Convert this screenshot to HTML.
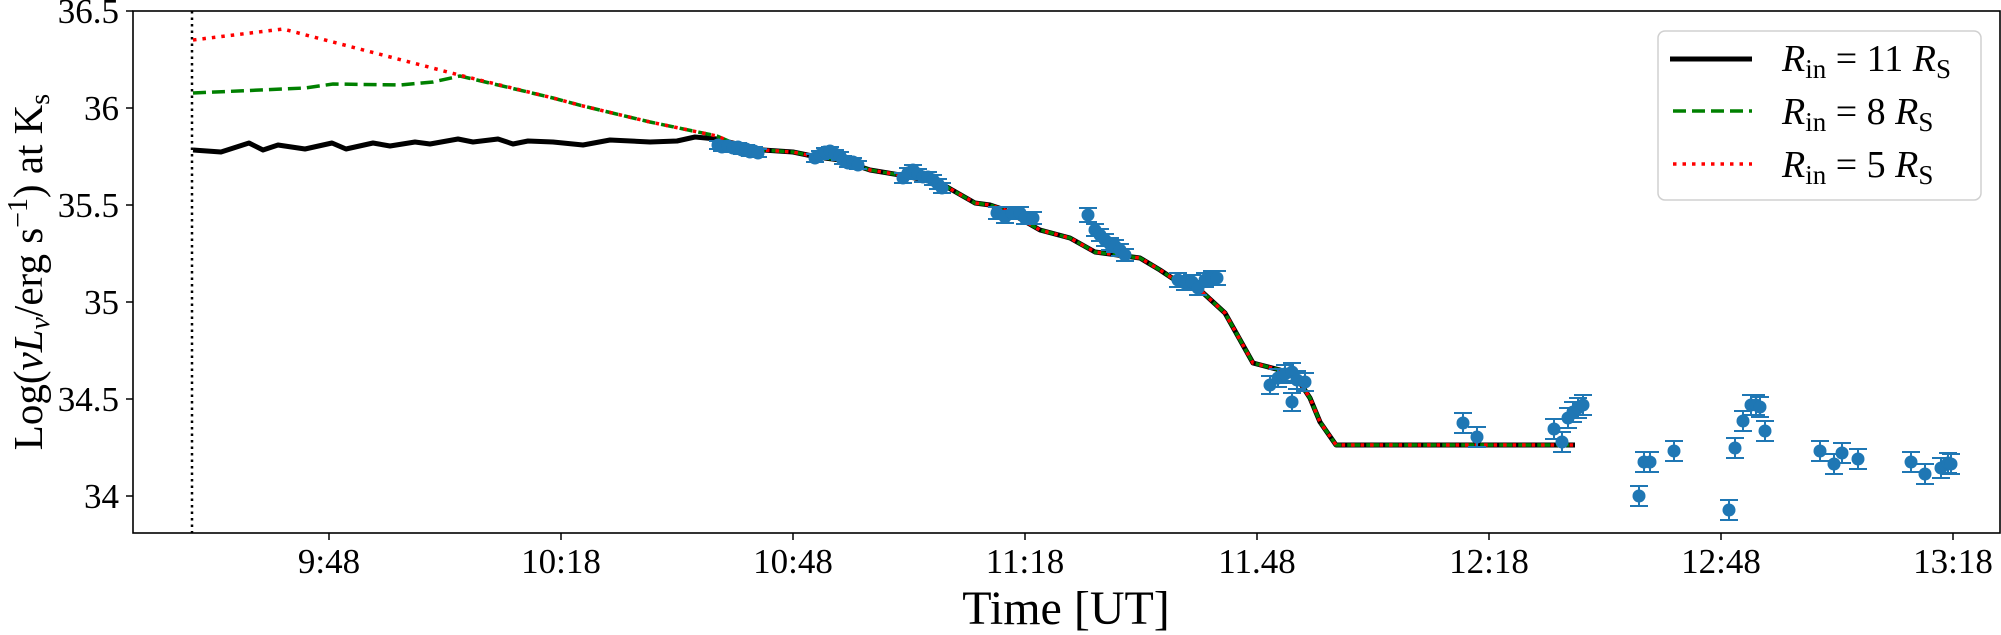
<!DOCTYPE html>
<html><head><meta charset="utf-8"><style>
html,body{margin:0;padding:0;background:#fff;}
svg{display:block;}
text{font-family:"Liberation Serif","DejaVu Serif",serif;fill:#000;}
</style></head><body>
<svg width="2001" height="635" viewBox="0 0 2001 635" xmlns="http://www.w3.org/2000/svg">
<rect width="2001" height="635" fill="#fff"/>
<line x1="192" y1="11" x2="192" y2="533" stroke="#000" stroke-width="2.5" stroke-dasharray="2.5,4"/>
<polyline fill="none" stroke="#000" stroke-width="5" stroke-linejoin="round" points="193,150 221,152 249,143 263,150 278,145 305,149 332,143 346,149 373,143 390,146 415,142 430,144 458,139 473,142 498,139 513,144 528,141 553,142 583,145 610,140 650,142 677,141 695,137 717,139 733,143 763,150 793,152 817,157 840,160 870,170 900,175 940,183 975,203 990,205 1005,210 1040,230 1070,238 1095,252 1140,258 1160,270 1175,280 1200,290 1225,313 1253,363 1280,370 1297,378 1310,398 1320,422 1336,445 1575,445"/>
<polyline fill="none" stroke="#008000" stroke-width="3.5" stroke-dasharray="13,6" points="193,93 283,89 305,88 333,84 400,85 433,82 460,76 553,98 583,106 650,122 717,136 733,143 763,150 793,152 817,157 840,160 870,170 900,175 940,183 975,203 990,205 1005,210 1040,230 1070,238 1095,252 1140,258 1160,270 1175,280 1200,290 1225,313 1253,363 1280,370 1297,378 1310,398 1320,422 1336,445 1575,445"/>
<polyline fill="none" stroke="#ff0000" stroke-width="3.5" stroke-dasharray="3.5,6" points="193,40 283,29 463,76 553,98 583,106 650,122 717,136 733,143 763,150 793,152 817,157 840,160 870,170 900,175 940,183 975,203 990,205 1005,210 1040,230 1070,238 1095,252 1140,258 1160,270 1175,280 1200,290 1225,313 1253,363 1280,370 1297,378 1310,398 1320,422 1336,445 1575,445"/>
<g id="data" fill="#1f77b4" stroke="#1f77b4" stroke-width="2"></g>
<rect x="133" y="11" width="1867" height="522" fill="none" stroke="#000" stroke-width="1.6"/>
<g stroke="#000" stroke-width="1.5">
<line x1="126" y1="11" x2="133" y2="11"/><line x1="126" y1="108" x2="133" y2="108"/><line x1="126" y1="205" x2="133" y2="205"/><line x1="126" y1="302" x2="133" y2="302"/><line x1="126" y1="399" x2="133" y2="399"/><line x1="126" y1="496" x2="133" y2="496"/>
<line x1="329" y1="533" x2="329" y2="540"/><line x1="561" y1="533" x2="561" y2="540"/><line x1="793" y1="533" x2="793" y2="540"/><line x1="1025" y1="533" x2="1025" y2="540"/><line x1="1257" y1="533" x2="1257" y2="540"/><line x1="1489" y1="533" x2="1489" y2="540"/><line x1="1721" y1="533" x2="1721" y2="540"/><line x1="1953" y1="533" x2="1953" y2="540"/>
</g>
<g font-size="35" text-anchor="end">
<text x="119" y="23">36.5</text><text x="119" y="120">36</text><text x="119" y="217">35.5</text><text x="119" y="314">35</text><text x="119" y="411">34.5</text><text x="119" y="508">34</text>
</g>
<g font-size="35" text-anchor="middle">
<text x="329" y="573">9:48</text><text x="561" y="573">10:18</text><text x="793" y="573">10:48</text><text x="1025" y="573">11:18</text><text x="1257" y="573">11.48</text><text x="1489" y="573">12:18</text><text x="1721" y="573">12:48</text><text x="1953" y="573">13:18</text>
</g>
<text x="1066" y="624" font-size="48" text-anchor="middle">Time [UT]</text>
<text transform="translate(42,272) rotate(-90)" font-size="41" text-anchor="middle">Log(<tspan font-style="italic">νL</tspan><tspan font-style="italic" font-size="28" dy="7">ν</tspan><tspan dy="-7">/erg s</tspan><tspan font-size="28" dy="-15">−1</tspan><tspan dy="15">) at K</tspan><tspan font-size="28" dy="7">s</tspan></text>
<rect x="1658" y="31" width="323" height="169" rx="7" fill="#fff" fill-opacity="0.8" stroke="#d0d0d0" stroke-width="1.5"/>
<line x1="1670" y1="59" x2="1752" y2="59" stroke="#000" stroke-width="5"/>
<line x1="1673" y1="111" x2="1752" y2="111" stroke="#008000" stroke-width="3.5" stroke-dasharray="13,6"/>
<line x1="1673" y1="164" x2="1752" y2="164" stroke="#ff0000" stroke-width="3.5" stroke-dasharray="3.5,6"/>
<g font-size="38">
<text x="1782" y="71"><tspan font-style="italic">R</tspan><tspan font-size="27" dy="7">in</tspan><tspan dy="-7"> = 11 </tspan><tspan font-style="italic">R</tspan><tspan font-size="27" dy="7">S</tspan></text>
<text x="1782" y="124"><tspan font-style="italic">R</tspan><tspan font-size="27" dy="7">in</tspan><tspan dy="-7"> = 8 </tspan><tspan font-style="italic">R</tspan><tspan font-size="27" dy="7">S</tspan></text>
<text x="1782" y="177"><tspan font-style="italic">R</tspan><tspan font-size="27" dy="7">in</tspan><tspan dy="-7"> = 5 </tspan><tspan font-style="italic">R</tspan><tspan font-size="27" dy="7">S</tspan></text>
</g>
</svg>
<script>
var pts=[[718,145,4],[722,147,4],[728,146,4],[733,148,4],[738,147,4],[742,150,4],[746,149,4],[750,152,4],[754,151,4],[758,153,4],
[815,158,4],[820,155,4],[825,152,4],[830,151,4],[835,154,4],[840,156,4],[843,160,4],[848,163,4],[853,162,4],[858,165,4],
[903,178,5],[908,173,5],[913,170,5],[918,174,5],[923,177,5],[928,177,5],[933,180,5],[938,184,5],[942,188,5],
[997,213,6],[1005,217,6],[1012,213,6],[1020,213,6],[1025,218,6],[1033,218,6],[1088,215,7],
[1095,230,6],[1100,235,6],[1105,240,6],[1110,244,6],[1115,246,6],[1120,250,6],[1125,255,6],
[1178,280,7],[1185,283,7],[1192,282,7],[1198,288,7],[1205,280,7],[1212,278,7],[1217,278,7],
[1270,385,9],[1278,378,9],[1285,374,9],[1292,372,9],[1297,380,9],[1305,382,9],[1292,402,9],
[1463,423],[1477,437],[1554,429],[1562,442],[1568,418],[1573,412],[1578,408],[1583,405],
[1639,496],[1644,462],[1650,462],[1674,451],[1729,510],[1735,448],[1743,421],[1751,405],[1756,405],[1760,407],[1765,431],
[1820,451],[1834,464],[1842,453],[1858,459],[1911,462],[1925,474],[1941,468],[1948,463],[1951,464]];
var g=document.getElementById('data'),h='';
pts.forEach(function(p){var x=p[0],y=p[1],e=p[2]||10,c=9;
h+='<line x1="'+x+'" y1="'+(y-e)+'" x2="'+x+'" y2="'+(y+e)+'"/><line x1="'+(x-c)+'" y1="'+(y-e)+'" x2="'+(x+c)+'" y2="'+(y-e)+'"/><line x1="'+(x-c)+'" y1="'+(y+e)+'" x2="'+(x+c)+'" y2="'+(y+e)+'"/><circle cx="'+x+'" cy="'+y+'" r="6.5" stroke="none"/>';});
g.innerHTML=h;
</script>
</body></html>
